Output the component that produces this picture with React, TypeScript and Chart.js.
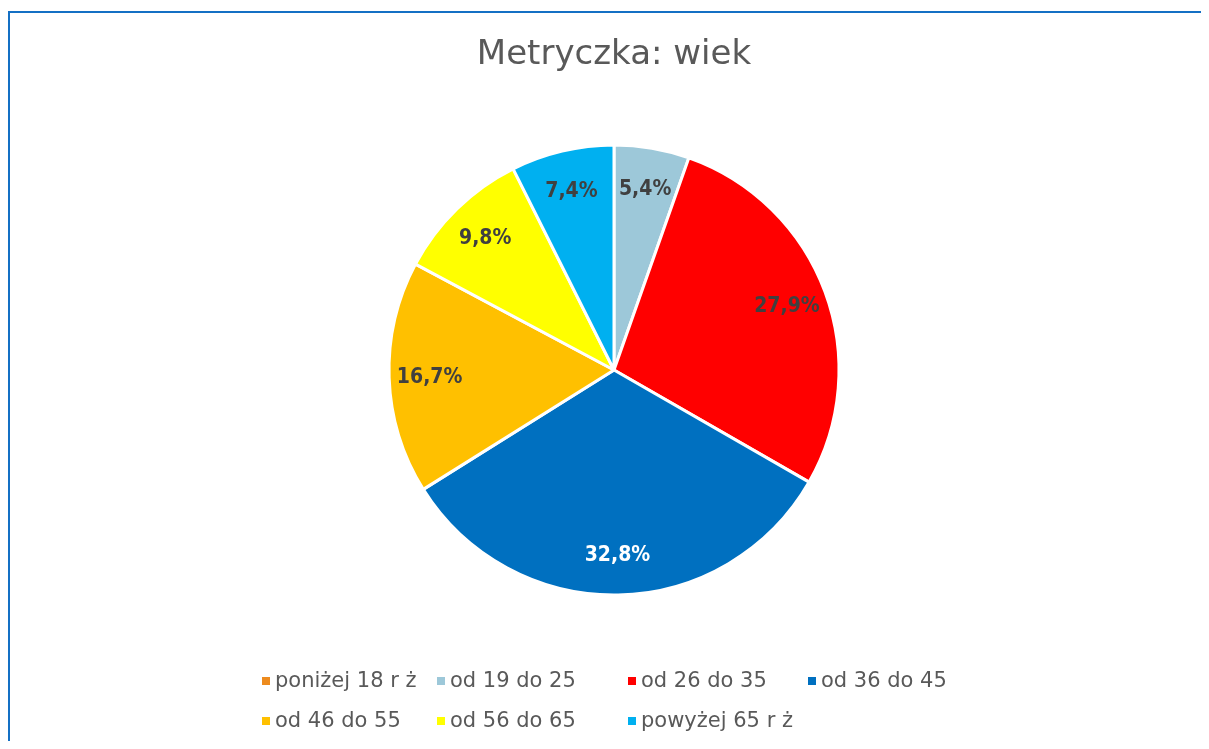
import React, { useEffect, useRef } from "react";
import { Chart, registerables } from "chart.js";

Chart.register(...registerables);

const categories = [
  "poniżej 18 r ż",
  "od 19 do 25",
  "od 26 do 35",
  "od 36 do 45",
  "od 46 do 55",
  "od 56 do 65",
  "powyżej 65 r ż",
];
const values = [0, 5.4, 27.9, 32.8, 16.7, 9.8, 7.4];
const colors = ["#ED8B1E", "#9DC8D9", "#FF0000", "#0070C0", "#FFC000", "#FFFF00", "#00B0F0"];
const labelColors = ["#404040", "#404040", "#404040", "#FFFFFF", "#404040", "#404040", "#404040"];
const title = "Metryczka: wiek";

const FONT = "'DejaVu Sans', sans-serif";
const LABEL_FONT = "'DejaVu Sans Condensed', 'DejaVu Sans', sans-serif";

const legendColumns = [252, 427, 618, 798];
const legendRows = [668, 708];

const labelPlugin = {
  id: "sliceLabels",
  afterDatasetsDraw(chart: any) {
    const ctx = chart.ctx;
    const meta = chart.getDatasetMeta(0);
    ctx.save();
    ctx.font = `bold 21px ${LABEL_FONT}`;
    ctx.textAlign = "center";
    ctx.textBaseline = "middle";
    meta.data.forEach((arc: any, i: number) => {
      const v = values[i];
      if (!v) return;
      const p = arc.getProps(["x", "y", "startAngle", "endAngle", "outerRadius"], true);
      const mid = (p.startAngle + p.endAngle) / 2;
      const r = p.outerRadius * 0.82;
      ctx.fillStyle = labelColors[i];
      ctx.fillText(v.toFixed(1).replace(".", ",") + "%", p.x + Math.cos(mid) * r, p.y + Math.sin(mid) * r + 1);
    });
    ctx.restore();
  },
};

const legendPlugin = {
  id: "gridLegend",
  afterDraw(chart: any) {
    const ctx = chart.ctx;
    ctx.save();
    ctx.font = `21px ${FONT}`;
    ctx.textBaseline = "middle";
    ctx.textAlign = "left";
    categories.forEach((c, i) => {
      const col = i % legendColumns.length;
      const row = Math.floor(i / legendColumns.length);
      const x = legendColumns[col];
      const y = legendRows[row];
      ctx.fillStyle = colors[i];
      ctx.fillRect(x, y - 4, 8, 8);
      ctx.fillStyle = "#595959";
      ctx.fillText(c, x + 13, y + 1);
    });
    ctx.restore();
  },
};

export default function App() {
  const ref = useRef<HTMLCanvasElement>(null);
  useEffect(() => {
    const chart = new Chart(ref.current!, {
      type: "pie",
      data: {
        labels: categories,
        datasets: [
          {
            data: values,
            backgroundColor: colors,
            borderColor: "#FFFFFF",
            borderWidth: 3,
          },
        ],
      },
      options: {
        responsive: false,
        animation: false,
        layout: { padding: { bottom: 156.5 } },
        plugins: {
          legend: { display: false },
          tooltip: { enabled: false },
          title: {
            display: true,
            text: title,
            color: "#595959",
            font: { family: FONT, size: 34, weight: "normal", lineHeight: 1.2 },
            padding: { top: 22, bottom: 67.7 },
          },
        },
      },
      plugins: [labelPlugin, legendPlugin],
    });
    return () => chart.destroy();
  }, []);
  return (
    <div style={{ position: "relative", width: 1201, height: 733, overflow: "hidden" }}>
      <div
        style={{
          position: "absolute",
          left: 0,
          top: 3,
          width: 1208,
          height: 760,
          border: "2px solid #1470C4",
          background: "#fff",
        }}
      >
        <canvas ref={ref} width={1208} height={740} style={{ display: "block" }} />
      </div>
    </div>
  );
}
